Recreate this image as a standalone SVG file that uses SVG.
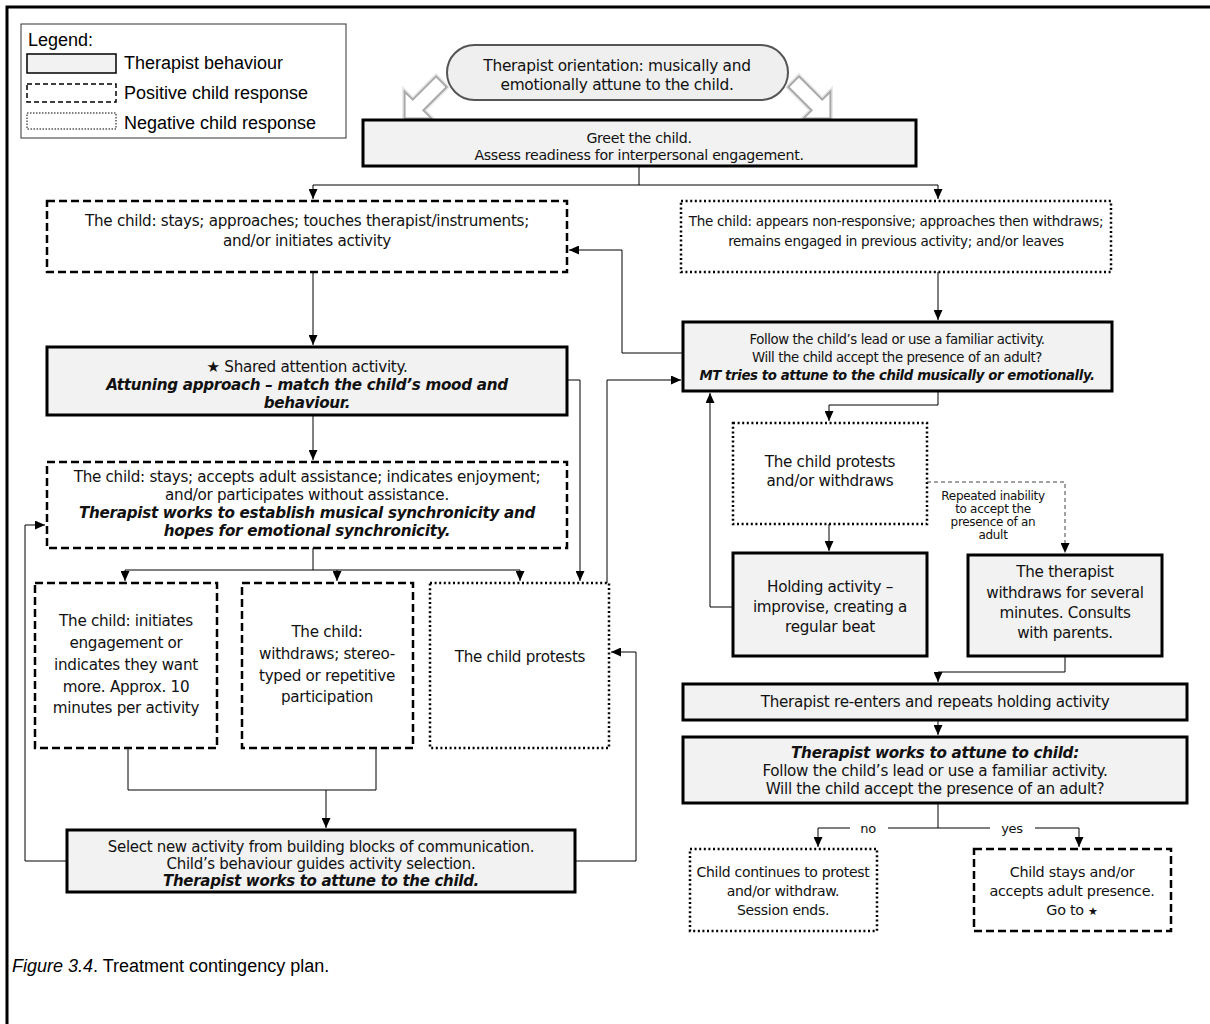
<svg xmlns="http://www.w3.org/2000/svg" width="1210" height="1024" viewBox="0 0 1210 1024">
<style>
.ther{fill:#f2f2f2;stroke:#000;stroke-width:3}
.pos{fill:#fff;stroke:#000;stroke-width:2.5;stroke-dasharray:8 4}
.neg{fill:#fff;stroke:#000;stroke-width:2.5;stroke-dasharray:2 2.6}
.t{font-family:"DejaVu Sans",Verdana,sans-serif;fill:#111;text-anchor:middle;letter-spacing:-0.3px}
.n{letter-spacing:-0.4px}
.bi{font-weight:bold;font-style:italic}
.c{fill:none;stroke:#000;stroke-width:1}
.cd{fill:none;stroke:#444;stroke-width:1;stroke-dasharray:4 3}
.lg{font-family:"Liberation Sans",Arial,sans-serif;font-size:18px;fill:#000}
.glow{fill:none;stroke:#e8e8e8;stroke-width:5;stroke-linejoin:miter}
.blk{fill:#fff;stroke:#a9a9a9;stroke-width:2;stroke-linejoin:miter}
</style>
<defs>
<marker id="ah" markerUnits="userSpaceOnUse" markerWidth="10" markerHeight="9" refX="10" refY="4.5" orient="auto">
<path d="M0,0 L10,4.5 L0,9 z" fill="#000"/>
</marker>
<path id="barrow" d="M-26,-7.5 L7,-7.5 L7,-19 L26,0 L7,19 L7,7.5 L-26,7.5 Z"/>
</defs>
<rect width="1210" height="1024" fill="#fff"/>
<path d="M7,1030 V7 H1215" fill="none" stroke="#000" stroke-width="3"/>

<g id="legend">
<rect x="21" y="24" width="325" height="114" fill="#fff" stroke="#333" stroke-width="1"/>
<text class="lg" x="28" y="46">Legend:</text>
<rect x="27" y="54" width="89" height="19" fill="#f2f2f2" stroke="#000" stroke-width="1.5"/>
<text class="lg" x="124" y="69">Therapist behaviour</text>
<rect x="27" y="84" width="89" height="18" fill="#fff" stroke="#000" stroke-width="1.5" stroke-dasharray="5 3"/>
<text class="lg" x="124" y="99">Positive child response</text>
<rect x="27" y="113" width="89" height="16" fill="#fff" stroke="#000" stroke-width="1" stroke-dasharray="1.5 1.5"/>
<text class="lg" x="124" y="129">Negative child response</text>
</g>

<g id="orientation">
<rect x="447" y="45" width="341" height="55" rx="27.5" fill="#efefef" stroke="#555" stroke-width="2"/>
<text class="t" font-size="15.4" x="617" y="71">Therapist orientation:  musically and</text>
<text class="t" font-size="15.4" x="617" y="90">emotionally attune to the child.</text>
<use href="#barrow" class="glow" transform="translate(423,100) rotate(135)"/>
<use href="#barrow" class="blk" transform="translate(423,100) rotate(135)"/>
<use href="#barrow" class="glow" transform="translate(812,100) rotate(45)"/>
<use href="#barrow" class="blk" transform="translate(812,100) rotate(45)"/>
</g>

<g id="greet">
<rect class="ther" x="363" y="120" width="553" height="46"/>
<text class="t" font-size="14.2" x="639" y="143">Greet the child.</text>
<text class="t" font-size="14.2" x="639" y="160">Assess readiness for interpersonal engagement.</text>
</g>

<g id="child-stays">
<rect class="pos" x="47" y="201" width="520" height="71"/>
<text class="t" font-size="15.2" x="307" y="226">The child: stays; approaches; touches therapist/instruments;</text>
<text class="t" font-size="15.2" x="307" y="246">and/or initiates activity</text>
</g>

<g id="child-nonresponsive">
<rect class="neg" x="681" y="201" width="430" height="71"/>
<text class="t" font-size="13.5" x="896" y="226">The child: appears non-responsive; approaches then withdraws;</text>
<text class="t" font-size="13.5" x="896" y="246">remains engaged in previous activity; and/or leaves</text>
</g>

<g id="follow-lead">
<rect class="ther" x="683" y="322" width="429" height="69"/>
<text class="t n" font-size="13.3" x="897" y="344">Follow the child’s lead or use a familiar activity.</text>
<text class="t n" font-size="13.3" x="897" y="362">Will the child accept the presence of an adult?</text>
<text class="t n bi" font-size="13.3" x="897" y="380">MT tries to attune to the child musically or emotionally.</text>
</g>

<g id="shared-attention">
<rect class="ther" x="47" y="347" width="520" height="68"/>
<text class="t" font-size="15.2" x="307" y="372">★   Shared attention activity.</text>
<text class="t bi" font-size="15.2" x="307" y="390">Attuning approach – match the child’s mood and</text>
<text class="t bi" font-size="15.2" x="307" y="408">behaviour.</text>
</g>

<g id="child-accepts">
<rect class="pos" x="47" y="462" width="520" height="86"/>
<text class="t" font-size="15.2" x="307" y="482">The child: stays; accepts adult assistance; indicates enjoyment;</text>
<text class="t" font-size="15.2" x="307" y="500">and/or participates without assistance.</text>
<text class="t bi" font-size="15.2" x="307" y="518">Therapist works to establish musical synchronicity and</text>
<text class="t bi" font-size="15.2" x="307" y="536">hopes for emotional synchronicity.</text>
</g>

<g id="child-initiates">
<rect class="pos" x="35" y="583" width="182" height="165"/>
<text class="t" font-size="15.2" x="126" y="626">The child: initiates</text>
<text class="t" font-size="15.2" x="126" y="648">engagement or</text>
<text class="t" font-size="15.2" x="126" y="670">indicates they want</text>
<text class="t" font-size="15.2" x="126" y="692">more. Approx. 10</text>
<text class="t" font-size="15.2" x="126" y="713">minutes per activity</text>
</g>

<g id="child-withdraws">
<rect class="pos" x="242" y="583" width="171" height="165"/>
<text class="t" font-size="15.2" x="327" y="637">The child:</text>
<text class="t" font-size="15.2" x="327" y="659">withdraws; stereo-</text>
<text class="t" font-size="15.2" x="327" y="681">typed or repetitive</text>
<text class="t" font-size="15.2" x="327" y="702">participation</text>
</g>

<g id="child-protests">
<rect class="neg" x="430" y="583" width="179" height="165"/>
<text class="t" font-size="15.2" x="520" y="662">The child protests</text>
</g>

<g id="select-activity">
<rect class="ther" x="67" y="830" width="508" height="62"/>
<text class="t" font-size="15" x="321" y="852">Select new activity from building blocks of communication.</text>
<text class="t" font-size="15" x="321" y="869">Child’s behaviour guides activity selection.</text>
<text class="t bi" font-size="15" x="321" y="886">Therapist works to attune to the child.</text>
</g>

<g id="protests-withdraws">
<rect class="neg" x="733" y="423" width="194" height="101"/>
<text class="t" font-size="15.2" x="830" y="467">The child protests</text>
<text class="t" font-size="15.2" x="830" y="486">and/or withdraws</text>
</g>

<g id="holding">
<rect class="ther" x="733" y="553" width="194" height="103"/>
<text class="t" font-size="15.2" x="830" y="592">Holding activity –</text>
<text class="t" font-size="15.2" x="830" y="612">improvise, creating a</text>
<text class="t" font-size="15.2" x="830" y="632">regular beat</text>
</g>

<g id="therapist-withdraws">
<rect class="ther" x="968" y="555" width="194" height="101"/>
<text class="t" font-size="15.2" x="1065" y="577">The therapist</text>
<text class="t" font-size="15.2" x="1065" y="598">withdraws for several</text>
<text class="t" font-size="15.2" x="1065" y="618">minutes. Consults</text>
<text class="t" font-size="15.2" x="1065" y="638">with parents.</text>
</g>

<g id="reenters">
<rect class="ther" x="683" y="684" width="504" height="36"/>
<text class="t" font-size="15.2" x="935" y="707">Therapist re-enters and repeats holding activity</text>
</g>

<g id="attune-child">
<rect class="ther" x="683" y="737" width="504" height="66"/>
<text class="t bi" font-size="15.2" x="935" y="758">Therapist works to attune to child:</text>
<text class="t" font-size="15.2" x="935" y="776">Follow the child’s lead or use a familiar activity.</text>
<text class="t" font-size="15.2" x="935" y="794">Will the child accept the presence of an adult?</text>
</g>

<g id="session-ends">
<rect class="neg" x="690" y="849" width="187" height="82"/>
<text class="t" font-size="14" x="783" y="877">Child continues to protest</text>
<text class="t" font-size="14" x="783" y="896">and/or withdraw.</text>
<text class="t" font-size="14" x="783" y="915">Session ends.</text>
</g>

<g id="child-stays-goto">
<rect class="pos" x="974" y="849" width="197" height="82"/>
<text class="t" font-size="14.4" x="1072" y="877">Child stays and/or</text>
<text class="t" font-size="14.4" x="1072" y="896">accepts adult presence.</text>
<text class="t" font-size="14.4" x="1072" y="915">Go to <tspan font-size="11">★</tspan></text>
</g>

<g id="connectors">
<path class="c" d="M639,166 V185 H313 V199" marker-end="url(#ah)"/>
<path class="c" d="M639,185 H938 V199" marker-end="url(#ah)"/>
<path class="c" d="M938,272 V320" marker-end="url(#ah)"/>
<path class="c" d="M683,353 H622 V250 H569" marker-end="url(#ah)"/>
<path class="c" d="M313,272 V345" marker-end="url(#ah)"/>
<path class="c" d="M313,415 V460" marker-end="url(#ah)"/>
<path class="c" d="M313,548 V570 H125 V581" marker-end="url(#ah)"/>
<path class="c" d="M313,570 H337 V581" marker-end="url(#ah)"/>
<path class="c" d="M337,570 H520 V581" marker-end="url(#ah)"/>
<path class="c" d="M567,380 H580 V581" marker-end="url(#ah)"/>
<path class="c" d="M607,583 V380 H681" marker-end="url(#ah)"/>
<path class="c" d="M128,748 V790 H376 V748"/>
<path class="c" d="M326,790 V828" marker-end="url(#ah)"/>
<path class="c" d="M67,861 H25 V525 H45" marker-end="url(#ah)"/>
<path class="c" d="M575,861 H636 V652 H611" marker-end="url(#ah)"/>
<path class="c" d="M938,391 V405 H829 V421" marker-end="url(#ah)"/>
<path class="c" d="M829,524 V551" stroke-width="1.5" marker-end="url(#ah)"/>
<path class="c" d="M733,607 H710 V393" marker-end="url(#ah)"/>
<path class="cd" d="M927,482 H1065 V553" marker-end="url(#ah)"/>
<text class="t" font-size="12" x="993" y="500">Repeated inability</text>
<text class="t" font-size="12" x="993" y="513">to accept the</text>
<text class="t" font-size="12" x="993" y="526">presence of an</text>
<text class="t" font-size="12" x="993" y="539">adult</text>
<path class="c" d="M1065,656 V672 H938 V682" marker-end="url(#ah)"/>
<path class="c" d="M938,720 V735" marker-end="url(#ah)"/>
<path class="c" d="M938,803 V828 H888 M850,828 H818 V847" marker-end="url(#ah)"/>
<path class="c" d="M938,828 H990 M1035,828 H1079 V847" marker-end="url(#ah)"/>
<text class="t" font-size="13" x="868" y="833">no</text>
<text class="t" font-size="13" x="1012" y="833">yes</text>
</g>

<text x="12" y="972" class="lg"><tspan font-style="italic">Figure 3.4</tspan>. Treatment contingency plan.</text>
</svg>
